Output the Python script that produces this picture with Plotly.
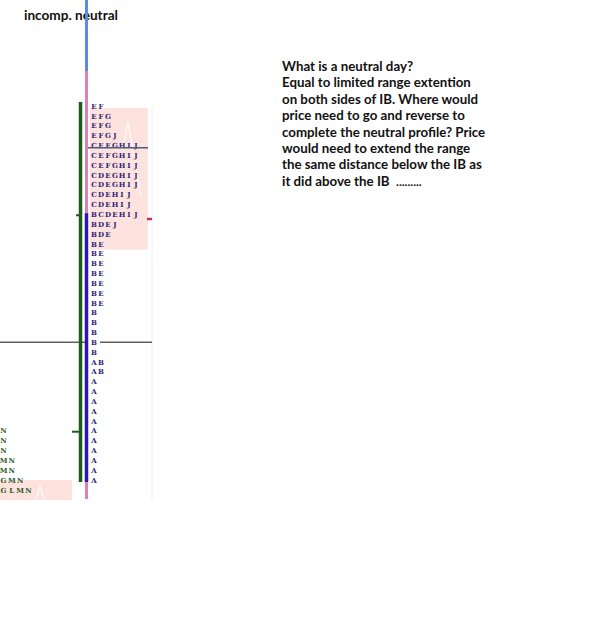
import plotly.graph_objects as go

# ---------------- data ----------------
# TPO profile rows (top price -> bottom price), main day
tpo_rows = ["EF", "EFG", "EFG", "EFGJ", "CEFGHIJ", "CEFGHIJ", "CEFGHIJ",
            "CDEGHIJ", "CDEGHIJ", "CDEHIJ", "CDEHIJ", "BCDEHIJ", "BDEJ", "BDE",
            "BE", "BE", "BE", "BE", "BE", "BE", "BE",
            "B", "B", "B", "B", "B", "AB", "AB",
            "A", "A", "A", "A", "A", "A", "A", "A", "A", "A", "A"]
# previous day's profile (partially visible, bottom left)
left_rows = ["N", "N", "N", "MN", "MN", "GMN", "GLMN"]
left_start_row = 33

title_text = "incomp. neutral"
note_lines = ["What is a neutral day?",
              "Equal to limited range extention",
              "on both sides of IB. Where would",
              "price need to go and reverse to",
              "complete the neutral profile? Price",
              "would need to extend the range",
              "the same distance below the IB as",
              "it did above the IB"]
note_tail = "........."

# key levels (row index units)
day_high, day_low = 0, 38
ib_high, ib_low = 11, 38
open_row, close_row = 11, 33
poc_row = 4
ref_row = 23.9

# ---------------- layout constants ----------------
ROW0_PX, ROW_PX = 107.0, 9.84
W, H = 604, 625
def r_of(px):
    return (px - ROW0_PX) / ROW_PX

MAIN_X0, MAIN_DX = 94.0, 7.0
LEFT_X0, LEFT_DX = 3.5, 8.3
BAR_X = 86.5
RANGE_X = 80.5

fig = go.Figure()

def seg(x0, x1, y0, y1, color, width):
    fig.add_trace(go.Scatter(x=[x0, x1], y=[y0, y1], mode="lines",
                             line=dict(color=color, width=width),
                             hoverinfo="skip", showlegend=False))

def rect(x0, x1, y0, y1, color):
    fig.add_shape(type="rect", x0=x0, x1=x1, y0=y0, y1=y1,
                  fillcolor=color, line=dict(width=0), layer="below")

# shaded value areas
rect(90, 148, r_of(108), 14.5, "#fde2de")
rect(0, 72, 37.9, r_of(500), "#fde2de")
# faint white outline inside shaded area
seg(121, 128, r_of(155), r_of(122), "white", 1)
seg(128, 141, r_of(122), r_of(196), "white", 1)
seg(36, 40, r_of(500), r_of(486), "white", 1)
seg(40, 44, r_of(486), r_of(500), "white", 1)

# light grey boundary
seg(152, 152, r_of(108), r_of(500), "#eeeeee", 1)

# title (text, below the vertical line)
fig.add_trace(go.Scatter(x=[24], y=[r_of(17)], mode="text", text=[title_text],
                         textposition="middle right",
                         textfont=dict(family="Lato", size=13.6, color="#111111", weight="bold"),
                         hoverinfo="skip", showlegend=False))

# reference horizontal line
seg(0, 88, ref_row, ref_row, "#111111", 1)
seg(100, 152, ref_row, ref_row, "#111111", 1)

# letters of main profile
xs, ys, ts = [], [], []
for i, row in enumerate(tpo_rows):
    for k, ch in enumerate(row):
        xs.append(MAIN_X0 + MAIN_DX * k)
        ys.append(i)
        ts.append(ch)
fig.add_trace(go.Scatter(x=xs, y=ys, mode="text", text=ts, textposition="middle center",
                         textfont=dict(family="DejaVu Serif", size=7, color="#2e2478", weight="bold"),
                         hoverinfo="skip", showlegend=False))

# letters of left profile
xs, ys, ts = [], [], []
for i, row in enumerate(left_rows):
    for k, ch in enumerate(row):
        xs.append(LEFT_X0 + LEFT_DX * k)
        ys.append(left_start_row + i)
        ts.append(ch)
fig.add_trace(go.Scatter(x=xs, y=ys, mode="text", text=ts, textposition="middle center",
                         textfont=dict(family="DejaVu Serif", size=7, color="#2c5a2c", weight="bold"),
                         hoverinfo="skip", showlegend=False))

# POC line
seg(87, 148, poc_row + 0.15, poc_row + 0.15, "#4d5b7c", 1.5)

# day range bar and open/close ticks
seg(RANGE_X, RANGE_X, day_high - 0.5, day_low + 0.1, "#1b5e1b", 3.5)
seg(76, RANGE_X, open_row, open_row, "#1b5e1b", 2)
seg(72, RANGE_X, close_row, close_row, "#1b5e1b", 2)

# time axis line: blue above, pink, IB purple
seg(BAR_X, BAR_X, r_of(0), r_of(71), "#5b8ed8", 3)
seg(BAR_X, BAR_X, r_of(71), r_of(499), "#e07fb8", 3)
seg(BAR_X, BAR_X, ib_high - 0.2, ib_low + 0.1, "#2a18b0", 3.5)

# small red tick
seg(147, 152, r_of(219), r_of(219), "#c03050", 2.5)

# note text, one line per annotation at fixed spacing
for i, line in enumerate(note_lines):
    txt = line
    if i == len(note_lines) - 1:
        txt = line + "  <span style='font-size:12px'>" + note_tail + "</span>"
    fig.add_annotation(x=280, y=r_of(66 + 16.4 * i), xref="x", yref="y", text=txt,
                       showarrow=False, xanchor="left", yanchor="middle", align="left",
                       font=dict(family="Lato", size=13.3, color="#111111", weight="bold"))

fig.update_layout(width=W, height=H, margin=dict(l=0, r=0, t=0, b=0),
                  paper_bgcolor="white", plot_bgcolor="white", showlegend=False,
                  xaxis=dict(range=[0, W], visible=False, fixedrange=True),
                  yaxis=dict(range=[r_of(H), r_of(0)], visible=False, fixedrange=True))

fig.write_html("out.html")
